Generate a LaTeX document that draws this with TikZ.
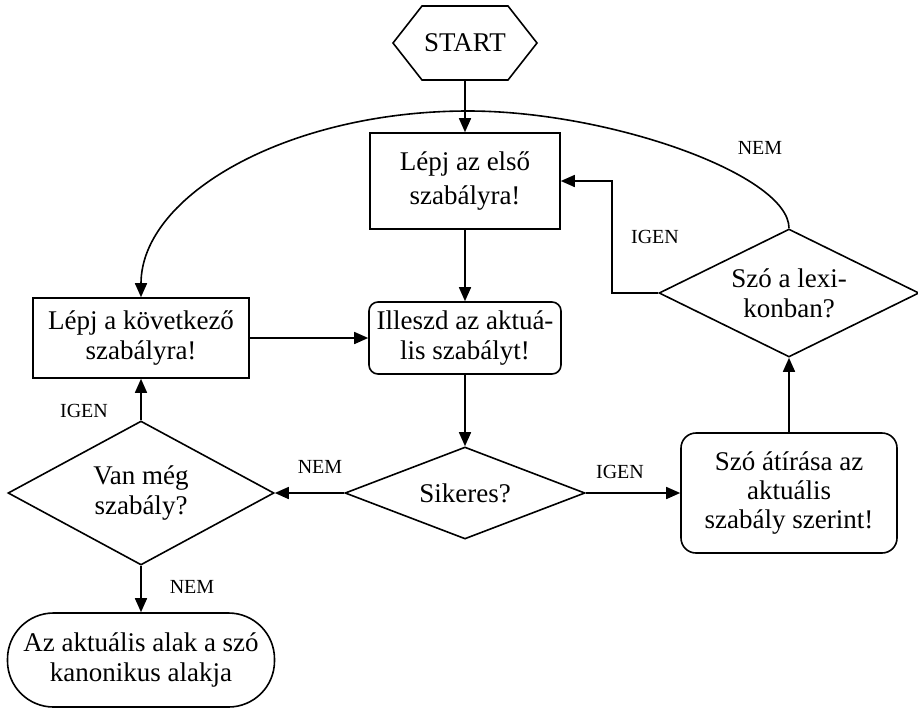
\documentclass[tikz,border=0pt]{standalone}
\usepackage{fontspec}
\setmainfont{Liberation Serif}
\usetikzlibrary{arrows.meta,shapes.geometric}
\begin{document}
\begin{tikzpicture}[x=1pt,y=-1pt,
  every node/.style={font=\fontsize{27}{30}\selectfont, align=center, inner sep=0pt},
  lw/.style={line width=1.6pt},
  plainbox/.style={lw, draw, rectangle},
  roundbox/.style={lw, draw, rectangle, rounded corners=9pt},
  decision/.style={lw, draw, diamond},
  lbl/.style={font=\fontsize{20}{22}\selectfont},
  arr/.style={lw, -{Triangle[length=14pt,width=12pt]}},
  conn/.style={lw}]
\useasboundingbox (0,0) rectangle (918,710);
% START hexagon
\node[minimum width=144pt, minimum height=74pt] (start) at (465,43) {START};
\draw[lw] (393,43) -- (422,6) -- (508,6) -- (537,43) -- (508,80) -- (422,80) -- cycle;
% boxes
\node[plainbox, minimum width=190pt, minimum height=96pt, font=\fontsize{27}{34}\selectfont] (first) at (465,181) {Lépj az első\\szabályra!};
\node[plainbox, minimum width=216pt, minimum height=80pt] (next) at (141,338) {Lépj a következő\\szabályra!};
\node[roundbox, minimum width=192pt, minimum height=72pt] (apply) at (465,338) {Illeszd az aktuá-\\lis szabályt!};
\node[decision, minimum width=240pt, minimum height=92pt, shape aspect=2.6] (succ) at (465,493) {Sikeres?};
\node[decision, minimum width=266pt, minimum height=144pt, shape aspect=1.85] (more) at (141,493) {Van még\\szabály?};
\node[lw, draw, rectangle, rounded corners=46pt, minimum width=267pt, minimum height=94pt] (final) at (141,660) {Az aktuális alak a szó\\kanonikus alakja};
\node[lw, draw, rectangle, rounded corners=15pt, minimum width=216pt, minimum height=120pt, font=\fontsize{27}{29}\selectfont] (rewrite) at (789,493) {Szó átírása az\\aktuális\\szabály szerint!};
\node[decision, minimum width=260pt, minimum height=128pt, shape aspect=2] (lex) at (789,293) {Szó a lexi-\\konban?};
% connectors
\draw[arr] (start.south) -- (first.north);
\draw[arr] (first.south) -- (apply.north);
\draw[arr] (apply.south) -- (succ.north);
\draw[arr] (next.east) -- (apply.west);
\draw[arr] (succ.west) -- (more.east);
\draw[arr] (more.north) -- (next.south);
\draw[arr] (more.south) -- (final.north);
\draw[arr] (succ.east) -- (rewrite.west);
\draw[arr] (rewrite.north) -- (lex.south);
\draw[arr] (lex.west) -- ++(-46,0) |- (first.east);
\coordinate (arctop) at (468,111);
\draw[arr] (lex.north) .. controls (789,175) and (610,111) .. (arctop)
  .. controls (288,111) and (141,195) .. (next.north);
% labels
\node[lbl] (l1) at (760,148) {NEM};
\node[lbl] (l2) at (655,237) {IGEN};
\node[lbl] (l3) at (320,467) {NEM};
\node[lbl] (l4) at (620,472) {IGEN};
\node[lbl] (l5) at (84,411) {IGEN};
\node[lbl] (l6) at (192,587) {NEM};
\end{tikzpicture}
\end{document}
